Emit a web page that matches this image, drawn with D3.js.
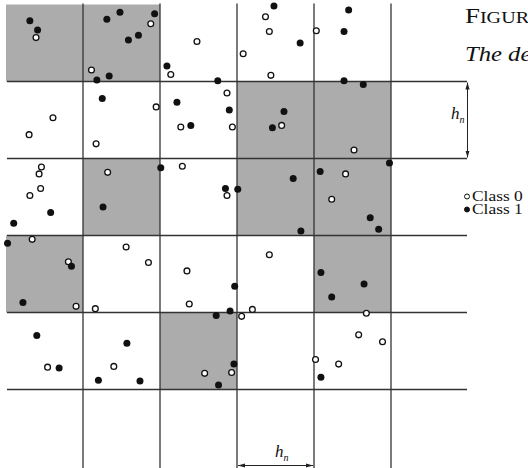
<!DOCTYPE html>
<html lang="en">
<head>
    <title>Histogram cells</title>
    <script src="https://d3js.org/d3.v7.min.js"></script>
    <style>
        body { margin: 0; background: #fff; }
        text { font-family: "Liberation Serif", "DejaVu Serif", serif; fill: #111; }
    </style>
</head>
<body>

<script>
    // points in cell units (x to the right, y upwards), grid of 6 x 6 cells of width h_n
    const class0 = [
        [0.39,5.57],[1.88,5.75],[1.11,5.15],[2.14,5.09],[1.95,4.67],[2.27,4.41],
        [0.61,4.53],[0.30,4.31],[1.17,4.19],[3.37,5.84],[3.42,5.65],[4.03,5.66],
        [2.48,5.52],[3.08,5.36],[3.44,5.08],[2.87,4.85],[2.94,4.41],[3.58,4.43],
        [4.52,4.11],[0.46,3.89],[0.43,3.80],[0.45,3.61],[0.31,3.52],[1.32,3.82],
        [0.34,2.95],[0.81,2.66],[1.56,2.85],[1.85,2.65],[0.91,2.08],[1.16,2.05],
        [2.29,3.90],[2.87,3.52],[4.23,3.47],[3.42,2.75],[2.35,2.54],[2.38,2.11],
        [3.20,2.04],[4.41,3.80],[0.54,1.29],[1.40,1.30],[3.06,1.95],[2.93,1.22],
        [2.58,1.21],[4.02,1.39],[4.32,1.33],[4.68,1.99],[4.58,1.71],[4.89,1.62]
    ];
    const class1 = [
        [0.31,5.79],[0.41,5.67],[1.31,5.81],[1.48,5.90],[1.93,5.88],[1.72,5.60],
        [1.59,5.54],[1.18,5.02],[1.34,5.07],[2.09,5.20],[1.25,4.78],[2.22,4.73],
        [3.48,5.98],[3.82,5.50],[2.75,5.01],[2.90,4.63],[2.40,4.43],[3.61,4.61],
        [3.46,4.40],[4.45,5.93],[4.39,5.65],[4.39,5.01],[4.64,4.96],[0.58,3.30],
        [0.10,3.16],[1.26,3.37],[2.01,3.88],[0.02,2.90],[0.85,2.60],[0.22,2.13],
        [2.85,3.61],[3.01,3.60],[3.73,3.74],[4.08,3.83],[3.83,3.06],[2.97,2.34],
        [2.91,2.02],[4.09,2.52],[4.23,2.20],[4.98,3.94],[4.73,3.23],[4.84,3.08],
        [4.65,2.37],[0.40,1.70],[0.69,1.28],[1.57,1.60],[1.20,1.12],[1.74,1.11],
        [2.73,1.96],[2.76,1.06],[2.96,1.33],[4.09,1.16]
    ];
    // shaded cells, lower-left corner [col, row]
    const shaded = [[0,5],[1,5],[3,4],[4,4],[1,3],[3,3],[4,3],[0,2],[4,2],[2,1]];
    const gridLines = [1,2,3,4,5];
    const legend = ["Class 0", "Class 1"];

    const width = 528, height = 468;

    const x = d3.scaleLinear().domain([0, 6]).range([6, 468]);
    const y = d3.scaleLinear().domain([0, 6]).range([466.5, 4.5]);

    const svg = d3.select("body").append("svg")
            .attr("width", width).attr("height", height);

    const defs = svg.append("defs");
    ["start", "end"].forEach(k => {
        defs.append("marker")
                .attr("id", "arr-" + k)
                .attr("viewBox", "0 0 10 10")
                .attr("refX", k == "end" ? 10 : 0).attr("refY", 5)
                .attr("markerWidth", 7).attr("markerHeight", 7)
                .attr("orient", "auto")
                .append("path")
                .attr("d", k == "end" ? "M0,2 L10,5 L0,8 Z" : "M10,2 L0,5 L10,8 Z")
                .attr("fill", "#222");
    });

    svg.append("g").selectAll("rect")
            .data(shaded).enter()
            .append("rect")
            .attr("x", d => x(d[0]))
            .attr("y", d => y(d[1] + 1))
            .attr("width", x(1) - x(0))
            .attr("height", y(0) - y(1))
            .attr("fill", "#acacac");

    const grid = svg.append("g").attr("stroke", "#333").attr("stroke-width", 1.3);
    grid.selectAll(".v").data(gridLines).enter()
            .append("line").attr("class", "v")
            .attr("x1", d => x(d)).attr("x2", d => x(d))
            .attr("y1", y(6) - 1).attr("y2", height);
    grid.selectAll(".h").data(gridLines).enter()
            .append("line").attr("class", "h")
            .attr("x1", x(0) + 1).attr("x2", x(6) - 1)
            .attr("y1", d => y(d)).attr("y2", d => y(d));

    // h_n arrows
    svg.append("line")
            .attr("x1", x(6) - 0.5).attr("x2", x(6) - 0.5)
            .attr("y1", y(5) + 1).attr("y2", y(4) - 1)
            .attr("stroke", "#222").attr("stroke-width", 1)
            .attr("marker-start", "url(#arr-start)").attr("marker-end", "url(#arr-end)");
    svg.append("line")
            .attr("x1", x(3) + 1).attr("x2", x(4) - 1)
            .attr("y1", 465.5).attr("y2", 465.5)
            .attr("stroke", "#222").attr("stroke-width", 1)
            .attr("marker-start", "url(#arr-start)").attr("marker-end", "url(#arr-end)");

    function hn(px, py) {
        const t = svg.append("text").attr("x", px).attr("y", py)
                .attr("font-style", "italic").attr("font-size", 17);
        t.append("tspan").text("h");
        t.append("tspan").attr("font-size", 10).attr("dy", 4).text("n");
    }
    hn(451, 119);
    hn(275, 457);

    // points
    svg.append("g").selectAll("circle")
            .data(class0).enter()
            .append("circle")
            .attr("cx", d => x(d[0])).attr("cy", d => y(d[1]))
            .attr("r", 2.9)
            .attr("fill", "#fff").attr("stroke", "#111").attr("stroke-width", 1.3);
    svg.append("g").selectAll("circle")
            .data(class1).enter()
            .append("circle")
            .attr("cx", d => x(d[0])).attr("cy", d => y(d[1]))
            .attr("r", 3.5)
            .attr("fill", "#111");

    // legend
    const lg = svg.append("g").attr("transform", "translate(467,196.5)");
    lg.selectAll("circle").data(legend).enter()
            .append("circle")
            .attr("cx", 0).attr("cy", (d, i) => i * 13)
            .attr("r", 2.5)
            .attr("fill", (d, i) => i == 0 ? "#fff" : "#111")
            .attr("stroke", "#111").attr("stroke-width", 1);
    lg.selectAll("text").data(legend).enter()
            .append("text")
            .attr("transform", (d, i) => `translate(5,${i * 13 + 4.2}) scale(1.2,1)`)
            .attr("font-size", 14.5)
            .text(d => d);

    // caption, cut by the page edge
    const cap = svg.append("text")
            .attr("transform", "translate(465,23) scale(1.22,1)")
            .attr("font-size", 22);
    cap.append("tspan").text("F");
    cap.append("tspan").attr("font-size", 16.5).text("IGURE");
    svg.append("text")
            .attr("transform", "translate(465,61) scale(1.12,1)")
            .attr("font-size", 22).attr("font-style", "italic")
            .text("The decision");
</script>

</body>
</html>
